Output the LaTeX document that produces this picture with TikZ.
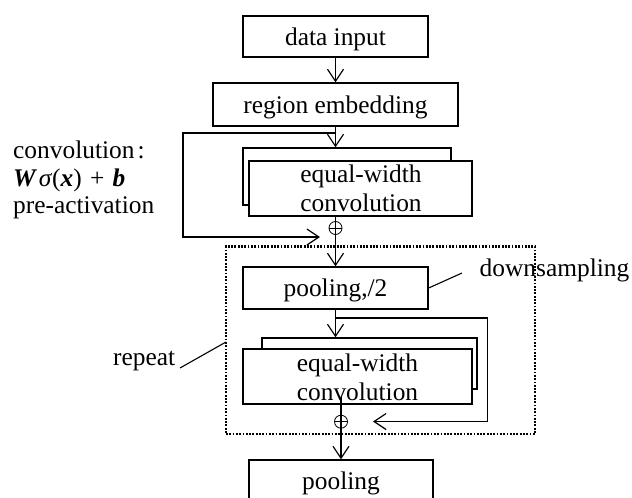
\documentclass[tikz,border=0pt]{standalone}
\usepackage{fontspec}
\setmainfont{Liberation Serif}
\usetikzlibrary{arrows.meta,calc}
\begin{document}
\begin{tikzpicture}[x=1pt,y=-1pt,
  font=\fontsize{25.4}{29}\selectfont,
  line width=1.4pt,
  box/.style={draw,fill=white,inner sep=0pt,text height=18pt,text depth=1pt},
  backbox/.style={draw,fill=white,inner sep=0pt},
  lbl/.style={inner sep=0pt,anchor=base},
  arr/.style={-{Straight Barb[length=12pt,width=16pt,line width=1.2pt]}},
  plusnode/.style={circle,draw,line width=0.8pt,minimum size=13pt,inner sep=0pt,
    path picture={\draw[line width=0.8pt] (path picture bounding box.west) -- (path picture bounding box.east);}},
  dotbox/.style={draw,line width=2.4pt,dash pattern=on 1.8pt off 1.5pt,inner sep=0pt}
]
\useasboundingbox (0,0) rectangle (632,498);

% repeat region (dotted)
\node[dotbox,minimum width=309pt,minimum height=187.5pt] (rep) at (380.5,340.25) {};

% top chain
\node[box,minimum width=185pt,minimum height=41pt] (din) at (335.5,36.5) {data input};
\node[box,minimum width=245pt,minimum height=43pt] (reg) at (335.5,104.5) {region embedding};

% first conv block
\node[backbox,minimum width=208pt,minimum height=57pt] (conv1b) at (347,176.5) {};
\node[backbox,minimum width=223pt,minimum height=55pt] (conv1) at (360.5,188.5) {};
\node[lbl] (c1a) at (361,182.7) {equal-width};
\node[lbl] (c1b) at (361,211.7) {convolution};
\node[plusnode] (plus1) at (335.5,228) {};

% pooling /2
\node[box,minimum width=185pt,minimum height=42pt] (pool2) at (335.5,288) {pooling,/2};

% second conv block
\node[backbox,minimum width=215pt,minimum height=51pt] (conv2b) at (369.5,363.5) {};
\node[backbox,minimum width=229pt,minimum height=55pt] (conv2) at (357.5,376.5) {};
\node[lbl] (c2a) at (357.5,371) {equal-width};
\node[lbl] (c2b) at (357.5,400) {convolution};
\node[plusnode] (plus2) at (341,421.7) {};

% final pooling
\node[box,minimum width=184pt,minimum height=42pt] (pool3) at (341,481) {pooling};

% labels
\node[inner sep=0pt,anchor=base west] (lt1) at (12.5,158.3) {convolution\kern3pt:};
\node[inner sep=0pt,anchor=base west] (lt2) at (12.5,186) {\textbf{\textit{W}}\kern1.5pt\textit{σ}(\textbf{\textit{x}})\kern2pt{} + \kern2pt\textbf{\textit{b}}};
\node[inner sep=0pt,anchor=base west] (lt3) at (12.5,213.3) {pre-activation};
\node[inner sep=0pt,anchor=base west] (ds) at (479,276) {downsampling};
\node[inner sep=0pt,anchor=base west] (rp) at (112.5,365) {repeat};

% coordinates for connector corners
\coordinate (b1) at (335.5,133);
\coordinate (k1) at (183,133);
\coordinate (k2) at (183,237);
\coordinate (t1) at (320,237);
\coordinate (b2) at (335.5,318);
\coordinate (k3) at (487.5,318);
\coordinate (k4) at (487.5,421.5);
\coordinate (t2) at (373,421.5);
\coordinate (dse) at (462,273);
\coordinate (rpa) at (180,368);
\coordinate (rpb) at (226,342);

% connectors
\draw[arr] (din.south) -- (reg.north);
\draw[arr] (reg.south) -- (reg.south |- conv1b.north);
\draw[arr] (b1) -- (k1) -- (k2) -- (t1);
\draw[arr] (plus1 |- conv1.south) -- (pool2.north);
\draw[arr] (pool2.south) -- (pool2.south |- conv2b.north);
\draw[arr] (b2) -- (k3) -- (k4) -- (t2);
\draw[arr] ($(plus2 |- conv2.south)+(0,-8)$) -- (pool3.north);
\draw[line width=1.1pt] (pool2.east) -- (dse);
\draw[line width=1.1pt] (rpa) -- (rpb);
\end{tikzpicture}
\end{document}
